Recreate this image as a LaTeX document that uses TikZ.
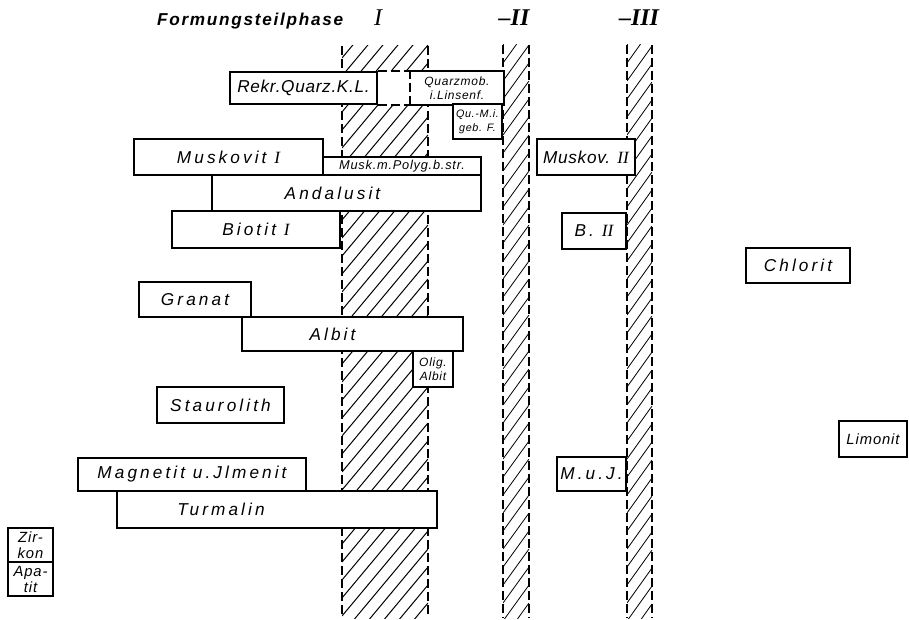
\documentclass[tikz,border=0pt]{standalone}
\usepackage{fontspec}
\setmainfont{Liberation Serif}
\newfontfamily\lettering{Liberation Sans}[LetterSpace=18]
\newfontfamily\smalllettering{Liberation Sans}[LetterSpace=6]
\newfontfamily\titlelettering{Liberation Sans}[LetterSpace=10]
\newcommand{\romnum}[1]{{\rmfamily\itshape #1}}
\tikzset{
  spans/.style args={#1,#2,#3,#4}{
    at={({(#1+#3)/2},{(#2+#4)/2})},
    minimum width={(#3-#1)*0.5pt},
    minimum height={(#4-#2)*0.5pt}
  },
  mineral/.style={
    draw,
    line width=1pt,
    fill=white,
    inner sep=0pt,
    align=center,
    anchor=center,
    font=\lettering\itshape\fontsize{8.6}{10}\selectfont
  },
  minor mineral/.style={
    mineral,
    font=\smalllettering\itshape\fontsize{6}{7}\selectfont
  },
  band edge/.style={
    line width=0.6pt,
    dash pattern=on 4.5pt off 2pt
  },
  hatch line/.style={
    line width=0.5pt
  },
  phase title/.style={
    font=\titlelettering\itshape\bfseries\fontsize{8.6}{10}\selectfont
  },
  phase number/.style={
    font=\rmfamily\itshape\bfseries\fontsize{12}{12}\selectfont
  }
}

\begin{document}
\begin{tikzpicture}[x=0.5pt,y=-0.5pt]
  \useasboundingbox (0,0) rectangle (909,620);

  % heading
  \node[phase title,anchor=base west] (phase) at (150,26) {Formungsteilphase};
  \node[phase number,font=\rmfamily\itshape\fontsize{12}{12}\selectfont,anchor=base] (phaseI) at (378,26) {I};
  \node[phase number,anchor=base] (phaseII) at (514,26) {--II};
  \node[phase number,anchor=base] (phaseIII) at (639,26) {--III};

  % hatched phase bands
  \begin{scope}
    \clip (342,46) rectangle (428,618);
    \foreach \y in {40,58,...,760}
      \draw[hatch line] (342,\y) -- ++(86,-103);
  \end{scope}
  \begin{scope}
    \clip (503,45) rectangle (529,618);
    \foreach \y in {45,63,...,700}
      \draw[hatch line,line width=0.4pt] (503,\y) -- ++(26,-36);
  \end{scope}
  \begin{scope}
    \clip (627,45) rectangle (652,618);
    \foreach \y in {45,63,...,700}
      \draw[hatch line,line width=0.4pt] (627,\y) -- ++(25,-35);
  \end{scope}
  \foreach \x in {342,428}
    \draw[band edge] (\x,46) -- (\x,618);
  \foreach \x in {503,529,627,652}
    \draw[band edge] (\x,45) -- (\x,618);

  % phase I minerals
  \node[mineral,spans={230,72,377,104}] (rekr) {\addfontfeature{LetterSpace=4}Rekr.Quarz.K.L.};
  \node[minor mineral,draw=none,spans={411,72,503,104}] (quarzmob) {Quarzmob.\\i.Linsenf.};
  \fill[white] (rekr.north east) rectangle (quarzmob.south west);
  \draw[line width=1pt] (quarzmob.north west) -- (quarzmob.north east)
    -- (quarzmob.south east) -- (quarzmob.south west);
  \draw[band edge,line width=0.8pt] (quarzmob.south west) -- (quarzmob.north west);
  \draw[band edge,line width=0.8pt] (rekr.north east) -- (quarzmob.north west);
  \draw[band edge,line width=0.8pt] (rekr.south east) -- (quarzmob.south west);
  \node[minor mineral,font=\smalllettering\itshape\fontsize{5.4}{7}\selectfont,
        spans={453,104,502,139}] (qumi) {Qu.-M.i.\\geb. F.};

  \node[mineral,spans={134,139,323,175}] (muskI) {Muskovit \romnum{I}};
  \node[minor mineral,font=\smalllettering\itshape\fontsize{6.4}{7}\selectfont,
        spans={323,157,481,175}] (muskpoly) {Musk.m.Polyg.b.str.};
  \node[mineral,spans={212,175,481,211}] (andalusit) {Andalusit\kern14pt};
  \node[mineral,spans={172,211,340,248}] (biotI) {Biotit \romnum{I}};

  \node[mineral,spans={139,282,251,317}] (granat) {Granat};
  \node[mineral,spans={242,317,463,351}] (albit) {Albit\kern20pt};
  \node[minor mineral,spans={413,351,453,387}] (olig) {Olig.\\Albit};
  \node[mineral,spans={157,387,284,423}] (staurolith) {Staurolith};

  \node[mineral,spans={78,458,306,491}] (magnetit) {Magnetit u.Jlmenit};
  \node[mineral,spans={117,491,437,528}] (turmalin) {Turmalin\kern56pt};

  \node[minor mineral,font=\smalllettering\itshape\fontsize{7.4}{8}\selectfont,
        spans={8,528,53,562}] (zirkon) {Zir-\\kon};
  \node[minor mineral,font=\smalllettering\itshape\fontsize{7.4}{8}\selectfont,
        spans={8,562,53,596}] (apatit) {Apa-\\tit};

  % phase II and III minerals
  \node[mineral,spans={537,139,635,175}] (muskII) {\addfontfeature{LetterSpace=4}Muskov. \romnum{II}};
  \node[mineral,spans={562,213,626,249}] (bII) {B. \romnum{II}};
  \node[mineral,spans={557,457,626,491}] (muj) {M.u.J.};

  \node[mineral,spans={746,248,850,283}] (chlorit) {Chlorit};
  \node[minor mineral,font=\smalllettering\itshape\fontsize{7.4}{8}\selectfont,
        spans={839,421,907,457}] (limonit) {Limonit};
\end{tikzpicture}
\end{document}
